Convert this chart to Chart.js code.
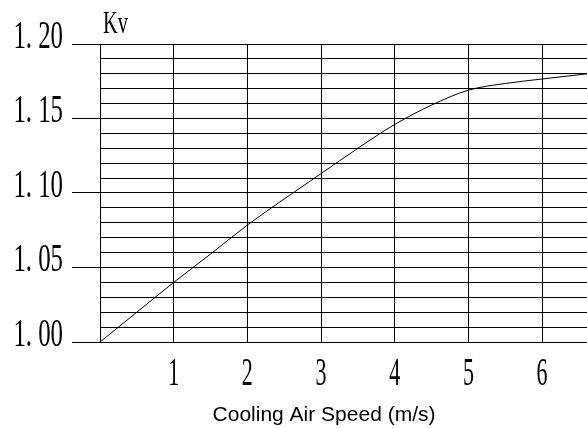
<!DOCTYPE html>
<html>
<head>
<meta charset="utf-8">
<script src="https://cdn.jsdelivr.net/npm/chart.js@4"></script>
<style>
  html, body { margin: 0; padding: 0; background: #fff; }
  #wrap { width: 587px; height: 428px; }
</style>
</head>
<body>
<div id="wrap"><canvas id="myChart" width="587" height="428"></canvas></div>
<script>
// Data
const speeds = [0, 0.5, 1, 1.5, 2, 2.5, 3, 3.5, 4, 4.5, 5, 5.5, 6, 6.61];
const kv = [1.000, 1.020, 1.040, 1.059, 1.0785, 1.096, 1.113, 1.130, 1.146, 1.159, 1.169, 1.1735, 1.1765, 1.180];

const xTickLabels = ["", "1", "2", "3", "4", "5", "6"];
const yTickValues = [1.00, 1.05, 1.10, 1.15, 1.20];
const yTickLabels = ["1. 00", "1. 05", "1. 10", "1. 15", "1. 20"];

const yTitle = "Kv";
const xTitle = "Cooling Air Speed (m/s)";

const serif = "'Liberation Serif', serif";

// squeeze tick text horizontally (reference uses a narrow font)
const squeezeLabels = function (scale, sx) {
    if (scale._squeezed) return;
    scale._squeezed = true;
    const orig = scale.drawLabels.bind(scale);
    scale.drawLabels = function (area) {
        const ctx = this.ctx;
        const fill = ctx.fillText;
        ctx.fillText = function (t, x, y) {
            this.save();
            this.scale(sx, 1);
            fill.call(this, t, x / sx, y);
            this.restore();
        };
        orig(area);
        ctx.fillText = fill;
    };
};

const isMajor = (v) => Math.round(v * 100) % 5 === 0;

const textPlugin = {
    id: "texts",
    afterDraw(chart) {
        const ctx = chart.ctx;
        const area = chart.chartArea;
        ctx.save();
        ctx.fillStyle = "#000";
        // Kv
        ctx.font = "32px " + serif;
        ctx.textAlign = "left";
        ctx.textBaseline = "alphabetic";
        ctx.save();
        ctx.translate(area.left + 3, area.top - 11);
        ctx.scale(0.64, 1);
        ctx.fillText(yTitle, 0, 0);
        ctx.restore();
        // axis title
        ctx.font = "21px 'Liberation Sans', Arial, sans-serif";
        ctx.textAlign = "center";
        ctx.fillText(xTitle, area.left + 224, 421);
        ctx.restore();
    },
};

const ctx = document.getElementById("myChart");

new Chart(ctx, {
    type: "scatter",
    data: {
        datasets: [
            {
                data: speeds.map((s, i) => ({ x: s, y: kv[i] })),
                showLine: true,
                borderColor: "#000",
                borderWidth: 1,
                pointRadius: 0,
                tension: 0.4,
                cubicInterpolationMode: "monotone",
            },
        ],
    },
    options: {
        responsive: false,
        animation: false,
        events: [],
        layout: { padding: { top: 44, right: 0, left: 0, bottom: 0 } },
        plugins: {
            legend: { display: false },
            tooltip: { enabled: false },
        },
        scales: {
            x: {
                type: "linear",
                min: 0,
                max: 6.61,
                afterBuildTicks(scale) {
                    scale.ticks = xTickLabels.map((_, i) => ({ value: i }));
                },
                afterFit(scale) {
                    scale.height = 86;
                },
                afterUpdate(scale) {
                    squeezeLabels(scale, 0.55);
                },
                ticks: {
                    padding: 8,
                    color: "#000",
                    font: { family: serif, size: 40 },
                    maxRotation: 0,
                    callback: (v) => xTickLabels[Math.round(v)] ?? "",
                },
                grid: { color: "#000", lineWidth: 1, drawTicks: false },
                border: { color: "#000", width: 1 },
            },
            y: {
                min: 1.0,
                max: 1.2,
                afterBuildTicks(scale) {
                    const t = [];
                    for (let i = 0; i <= 20; i++) t.push({ value: 1 + i / 100 });
                    scale.ticks = t;
                },
                afterFit(scale) {
                    scale.width = 100;
                },
                afterUpdate(scale) {
                    squeezeLabels(scale, 0.62);
                },
                ticks: {
                    padding: 9,
                    labelOffset: -7,
                    color: "#000",
                    autoSkip: false,
                    font: { family: serif, size: 40 },
                    callback: (v) => {
                        const i = yTickValues.findIndex((t) => Math.abs(t - v) < 1e-6);
                        return i >= 0 ? yTickLabels[i] : "";
                    },
                },
                grid: {
                    color: "#000",
                    lineWidth: 1,
                    tickLength: 28,
                    tickColor: (c) => (c.tick && isMajor(c.tick.value) ? "#000" : "rgba(0,0,0,0)"),
                },
                border: { color: "#000", width: 1 },
            },
        },
    },
    plugins: [textPlugin],
});
</script>
</body>
</html>
